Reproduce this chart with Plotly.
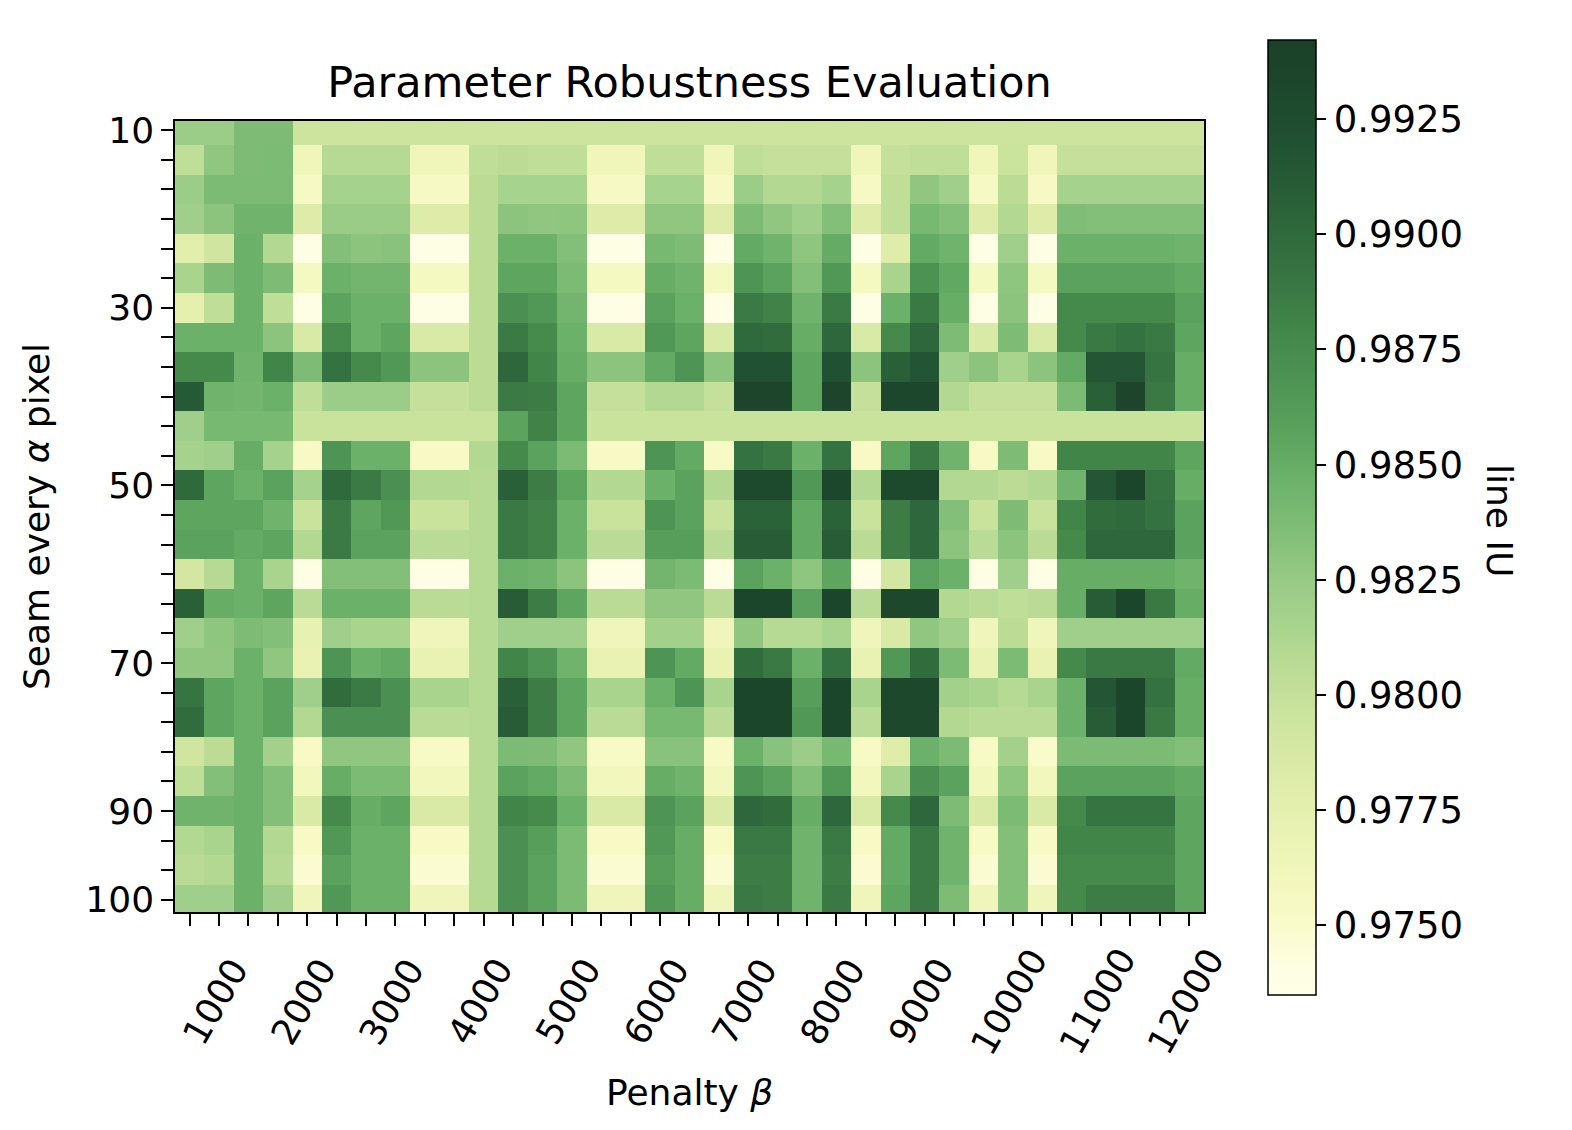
import plotly.graph_objects as go

# ---------------- data ----------------
penalty = [667, 1000, 1333, 1667, 2000, 2333, 2667, 3000, 3333, 3667, 4000, 4333,
           4667, 5000, 5333, 5667, 6000, 6333, 6667, 7000, 7333, 7667, 8000, 8333,
           8667, 9000, 9333, 9667, 10000, 10333, 10667, 11000, 11333, 11667, 12000]
penalty_labels = ["1000", "2000", "3000", "4000", "5000", "6000", "7000", "8000",
                  "9000", "10000", "11000", "12000"]
penalty_label_vals = [1000, 2000, 3000, 4000, 5000, 6000, 7000, 8000, 9000, 10000, 11000, 12000]

seam_rows = list(range(27))
seam_label_rows = [0, 6, 12, 18, 23, 26]
seam_labels = ["10", "30", "50", "70", "90", "100"]

line_iu = [
    [0.9822, 0.9822, 0.9837, 0.9837] + [0.9795] * 31,
    [0.9803, 0.9828, 0.9837, 0.9838, 0.9763, 0.9808, 0.9808, 0.9808, 0.9763, 0.9763, 0.9803, 0.9805,
     0.9803, 0.9803, 0.9763, 0.9763, 0.9803, 0.9803, 0.9763, 0.9803, 0.9800, 0.9800, 0.9800, 0.9763,
     0.9800, 0.9803, 0.9803, 0.9763, 0.9796, 0.9763, 0.9800, 0.9800, 0.9800, 0.9800, 0.9800],
    [0.9822, 0.9838, 0.9838, 0.9838, 0.9755, 0.9817, 0.9817, 0.9817, 0.9755, 0.9755, 0.9805, 0.9816,
     0.9816, 0.9816, 0.9755, 0.9755, 0.9816, 0.9816, 0.9755, 0.9822, 0.9810, 0.9810, 0.9817, 0.9755,
     0.9803, 0.9828, 0.9820, 0.9755, 0.9805, 0.9755, 0.9817, 0.9817, 0.9817, 0.9817, 0.9817],
    [0.9820, 0.9830, 0.9845, 0.9845, 0.9781, 0.9823, 0.9823, 0.9823, 0.9781, 0.9781, 0.9805, 0.9830,
     0.9828, 0.9829, 0.9781, 0.9781, 0.9828, 0.9828, 0.9781, 0.9837, 0.9828, 0.9820, 0.9834, 0.9781,
     0.9803, 0.9840, 0.9834, 0.9781, 0.9810, 0.9781, 0.9836, 0.9834, 0.9834, 0.9834, 0.9834],
    [0.9778, 0.9793, 0.9847, 0.9810, 0.9740, 0.9834, 0.9830, 0.9832, 0.9740, 0.9740, 0.9805, 0.9847,
     0.9847, 0.9834, 0.9740, 0.9740, 0.9840, 0.9837, 0.9740, 0.9852, 0.9845, 0.9829, 0.9851, 0.9740,
     0.9780, 0.9852, 0.9845, 0.9740, 0.9820, 0.9740, 0.9847, 0.9847, 0.9847, 0.9847, 0.9845],
    [0.9815, 0.9837, 0.9847, 0.9837, 0.9757, 0.9847, 0.9843, 0.9843, 0.9757, 0.9757, 0.9805, 0.9855,
     0.9855, 0.9838, 0.9757, 0.9757, 0.9850, 0.9845, 0.9757, 0.9868, 0.9857, 0.9834, 0.9865, 0.9757,
     0.9815, 0.9870, 0.9853, 0.9757, 0.9829, 0.9757, 0.9857, 0.9857, 0.9857, 0.9857, 0.9852],
    [0.9775, 0.9803, 0.9847, 0.9803, 0.9740, 0.9856, 0.9847, 0.9847, 0.9740, 0.9740, 0.9805, 0.9871,
     0.9865, 0.9843, 0.9740, 0.9740, 0.9857, 0.9847, 0.9740, 0.9887, 0.9882, 0.9845, 0.9887, 0.9740,
     0.9847, 0.9888, 0.9850, 0.9740, 0.9830, 0.9740, 0.9877, 0.9877, 0.9877, 0.9877, 0.9857],
    [0.9847, 0.9847, 0.9847, 0.9830, 0.9785, 0.9876, 0.9847, 0.9855, 0.9785, 0.9785, 0.9805, 0.9887,
     0.9876, 0.9847, 0.9785, 0.9785, 0.9865, 0.9855, 0.9785, 0.9900, 0.9898, 0.9850, 0.9902, 0.9785,
     0.9877, 0.9902, 0.9837, 0.9785, 0.9837, 0.9785, 0.9877, 0.9888, 0.9893, 0.9888, 0.9855],
    [0.9877, 0.9877, 0.9845, 0.9880, 0.9837, 0.9893, 0.9877, 0.9865, 0.9830, 0.9830, 0.9805, 0.9902,
     0.9880, 0.9850, 0.9830, 0.9830, 0.9852, 0.9868, 0.9830, 0.9920, 0.9920, 0.9855, 0.9920, 0.9830,
     0.9907, 0.9917, 0.9820, 0.9830, 0.9815, 0.9830, 0.9852, 0.9916, 0.9916, 0.9892, 0.9850],
    [0.9913, 0.9845, 0.9843, 0.9847, 0.9803, 0.9822, 0.9822, 0.9822, 0.9800, 0.9800, 0.9805, 0.9887,
     0.9885, 0.9855, 0.9800, 0.9800, 0.9810, 0.9810, 0.9800, 0.9935, 0.9935, 0.9855, 0.9935, 0.9800,
     0.9932, 0.9932, 0.9810, 0.9800, 0.9800, 0.9800, 0.9838, 0.9907, 0.9935, 0.9888, 0.9850],
    [0.9820, 0.9840, 0.9840, 0.9840] + [0.9797] * 7 + [0.9856, 0.9882, 0.9855] + [0.9797] * 21,
    [0.9817, 0.9820, 0.9850, 0.9817, 0.9752, 0.9868, 0.9847, 0.9847, 0.9752, 0.9752, 0.9810, 0.9877,
     0.9857, 0.9838, 0.9752, 0.9752, 0.9868, 0.9852, 0.9752, 0.9893, 0.9888, 0.9847, 0.9893, 0.9752,
     0.9855, 0.9888, 0.9845, 0.9752, 0.9837, 0.9752, 0.9880, 0.9880, 0.9880, 0.9880, 0.9855],
    [0.9900, 0.9855, 0.9847, 0.9857, 0.9817, 0.9900, 0.9887, 0.9871, 0.9810, 0.9810, 0.9808, 0.9907,
     0.9885, 0.9855, 0.9810, 0.9810, 0.9847, 0.9857, 0.9810, 0.9930, 0.9930, 0.9865, 0.9932, 0.9810,
     0.9930, 0.9930, 0.9810, 0.9810, 0.9805, 0.9810, 0.9845, 0.9916, 0.9933, 0.9892, 0.9850],
    [0.9855, 0.9855, 0.9855, 0.9845, 0.9797, 0.9887, 0.9855, 0.9865, 0.9797, 0.9797, 0.9808, 0.9888,
     0.9882, 0.9847, 0.9797, 0.9797, 0.9868, 0.9857, 0.9797, 0.9905, 0.9905, 0.9852, 0.9905, 0.9797,
     0.9885, 0.9902, 0.9834, 0.9797, 0.9837, 0.9797, 0.9880, 0.9898, 0.9900, 0.9893, 0.9857],
    [0.9857, 0.9857, 0.9852, 0.9855, 0.9810, 0.9887, 0.9857, 0.9857, 0.9806, 0.9806, 0.9808, 0.9888,
     0.9882, 0.9847, 0.9806, 0.9806, 0.9860, 0.9860, 0.9806, 0.9910, 0.9910, 0.9852, 0.9910, 0.9806,
     0.9885, 0.9902, 0.9830, 0.9806, 0.9830, 0.9806, 0.9877, 0.9902, 0.9902, 0.9902, 0.9857],
    [0.9790, 0.9808, 0.9847, 0.9815, 0.9740, 0.9834, 0.9834, 0.9834, 0.9740, 0.9740, 0.9808, 0.9847,
     0.9845, 0.9830, 0.9740, 0.9740, 0.9843, 0.9838, 0.9740, 0.9857, 0.9847, 0.9829, 0.9855, 0.9740,
     0.9790, 0.9857, 0.9847, 0.9740, 0.9820, 0.9740, 0.9850, 0.9850, 0.9850, 0.9850, 0.9845],
    [0.9907, 0.9850, 0.9847, 0.9855, 0.9806, 0.9847, 0.9847, 0.9847, 0.9806, 0.9806, 0.9808, 0.9910,
     0.9885, 0.9855, 0.9806, 0.9806, 0.9828, 0.9828, 0.9806, 0.9933, 0.9933, 0.9857, 0.9933, 0.9806,
     0.9931, 0.9931, 0.9810, 0.9806, 0.9803, 0.9806, 0.9850, 0.9910, 0.9933, 0.9888, 0.9850],
    [0.9820, 0.9829, 0.9837, 0.9834, 0.9773, 0.9820, 0.9815, 0.9815, 0.9762, 0.9762, 0.9808, 0.9820,
     0.9820, 0.9820, 0.9762, 0.9762, 0.9818, 0.9818, 0.9762, 0.9828, 0.9808, 0.9808, 0.9815, 0.9762,
     0.9785, 0.9828, 0.9820, 0.9762, 0.9805, 0.9762, 0.9820, 0.9820, 0.9820, 0.9820, 0.9820],
    [0.9828, 0.9828, 0.9847, 0.9828, 0.9770, 0.9868, 0.9847, 0.9852, 0.9770, 0.9770, 0.9808, 0.9880,
     0.9868, 0.9845, 0.9770, 0.9770, 0.9868, 0.9852, 0.9770, 0.9898, 0.9888, 0.9847, 0.9893, 0.9770,
     0.9865, 0.9898, 0.9838, 0.9770, 0.9838, 0.9770, 0.9877, 0.9888, 0.9888, 0.9888, 0.9852],
    [0.9892, 0.9855, 0.9847, 0.9857, 0.9820, 0.9898, 0.9887, 0.9871, 0.9815, 0.9815, 0.9808, 0.9907,
     0.9885, 0.9855, 0.9815, 0.9815, 0.9847, 0.9868, 0.9815, 0.9933, 0.9933, 0.9860, 0.9933, 0.9815,
     0.9931, 0.9931, 0.9818, 0.9815, 0.9808, 0.9815, 0.9847, 0.9916, 0.9933, 0.9893, 0.9850],
    [0.9898, 0.9855, 0.9847, 0.9857, 0.9810, 0.9871, 0.9871, 0.9871, 0.9806, 0.9806, 0.9808, 0.9910,
     0.9885, 0.9855, 0.9806, 0.9806, 0.9840, 0.9840, 0.9806, 0.9933, 0.9933, 0.9865, 0.9933, 0.9806,
     0.9931, 0.9931, 0.9810, 0.9806, 0.9806, 0.9806, 0.9847, 0.9910, 0.9933, 0.9888, 0.9850],
    [0.9793, 0.9805, 0.9847, 0.9818, 0.9752, 0.9828, 0.9828, 0.9828, 0.9752, 0.9752, 0.9808, 0.9838,
     0.9837, 0.9828, 0.9752, 0.9752, 0.9832, 0.9832, 0.9752, 0.9847, 0.9832, 0.9822, 0.9840, 0.9752,
     0.9780, 0.9847, 0.9838, 0.9752, 0.9818, 0.9750, 0.9838, 0.9838, 0.9838, 0.9838, 0.9834],
    [0.9803, 0.9834, 0.9847, 0.9834, 0.9760, 0.9850, 0.9838, 0.9838, 0.9760, 0.9760, 0.9808, 0.9857,
     0.9852, 0.9837, 0.9760, 0.9760, 0.9850, 0.9845, 0.9760, 0.9868, 0.9857, 0.9834, 0.9865, 0.9760,
     0.9815, 0.9871, 0.9857, 0.9760, 0.9829, 0.9760, 0.9857, 0.9857, 0.9857, 0.9857, 0.9852],
    [0.9845, 0.9845, 0.9847, 0.9834, 0.9785, 0.9877, 0.9850, 0.9855, 0.9785, 0.9785, 0.9808, 0.9880,
     0.9876, 0.9847, 0.9785, 0.9785, 0.9868, 0.9857, 0.9785, 0.9902, 0.9898, 0.9850, 0.9902, 0.9785,
     0.9877, 0.9902, 0.9837, 0.9785, 0.9838, 0.9785, 0.9877, 0.9892, 0.9892, 0.9892, 0.9855],
    [0.9810, 0.9815, 0.9847, 0.9810, 0.9752, 0.9865, 0.9847, 0.9847, 0.9752, 0.9752, 0.9808, 0.9871,
     0.9860, 0.9838, 0.9752, 0.9752, 0.9865, 0.9850, 0.9752, 0.9888, 0.9888, 0.9845, 0.9888, 0.9752,
     0.9852, 0.9888, 0.9845, 0.9752, 0.9834, 0.9752, 0.9880, 0.9880, 0.9880, 0.9880, 0.9855],
    [0.9806, 0.9810, 0.9847, 0.9808, 0.9748, 0.9857, 0.9847, 0.9847, 0.9748, 0.9748, 0.9808, 0.9871,
     0.9857, 0.9838, 0.9748, 0.9748, 0.9860, 0.9850, 0.9748, 0.9885, 0.9885, 0.9845, 0.9885, 0.9748,
     0.9852, 0.9888, 0.9845, 0.9748, 0.9834, 0.9748, 0.9877, 0.9877, 0.9877, 0.9877, 0.9855],
    [0.9820, 0.9820, 0.9847, 0.9820, 0.9762, 0.9865, 0.9847, 0.9847, 0.9762, 0.9762, 0.9808, 0.9871,
     0.9857, 0.9838, 0.9762, 0.9762, 0.9865, 0.9850, 0.9762, 0.9888, 0.9885, 0.9845, 0.9888, 0.9762,
     0.9855, 0.9888, 0.9837, 0.9762, 0.9834, 0.9762, 0.9877, 0.9885, 0.9885, 0.9885, 0.9855],
]

cbar_ticks = [0.9750, 0.9775, 0.9800, 0.9825, 0.9850, 0.9875, 0.9900, 0.9925]
z_min, z_max = 0.97348, 0.99422

# colour stops (value, colour)
stop_vals = [0.97348, 0.9740, 0.9752, 0.9765, 0.9780, 0.9795, 0.9805, 0.9815, 0.9822,
             0.9830, 0.9838, 0.9847, 0.9857, 0.9868, 0.9880, 0.9890, 0.9900, 0.9910,
             0.9920, 0.9933, 0.99422]
stop_cols = ["#ffffe6", "#fefee5", "#f8fac6", "#eef5b8", "#e0edaa", "#cce49e", "#bcdc96",
             "#a8d48e", "#9ccd88", "#8cc47e", "#7cbb74", "#6cb16a", "#5aa25d", "#4e9455",
             "#428548", "#387643", "#2f6a3c", "#285c36", "#215133", "#1c462b", "#1a4029"]

# ---------------- figure ----------------
OFF = 8                      # the page body adds an 8 px margin around the figure
W, H = 1572 - OFF, 1130 - OFF
L, R, T, B = 175 - OFF, 1204 - OFF, 121 - OFF, 912 - OFF
FONT = "DejaVu Sans"
TICK_SIZE = 36

colorscale = [[(v - z_min) / (z_max - z_min), c] for v, c in zip(stop_vals, stop_cols)]
colorscale[0][0] = 0.0
colorscale[-1][0] = 1.0

y_ticktext = [seam_labels[seam_label_rows.index(r)] if r in seam_label_rows else ""
              for r in seam_rows]

cb_left, cb_mid = 1268 - OFF, 517.5 - OFF

fig = go.Figure(go.Heatmap(
    z=line_iu, x=penalty, y=seam_rows,
    zmin=z_min, zmax=z_max, colorscale=colorscale,
    colorbar=dict(
        x=(cb_left - L) / (R - L), xanchor="left", xpad=0,
        y=(B - cb_mid) / (B - T), yanchor="middle", ypad=0,
        thickness=48, thicknessmode="pixels",
        len=955, lenmode="pixels",
        outlinewidth=1.5, outlinecolor="black",
        tickmode="array", tickvals=cbar_ticks,
        ticktext=[f"{t:.4f}" for t in cbar_ticks],
        ticks="outside", ticklen=10, tickwidth=1.5, tickcolor="black",
        tickfont=dict(family=FONT, size=37, color="black"),
    ),
    hovertemplate="β=%{x}<br>row=%{y}<br>IU=%{z:.4f}<extra></extra>",
))

# rotated x tick labels, centred on a common line under their ticks (matplotlib style)
label_mid_px = 1001 - OFF
xlabel_annotations = [
    dict(text=txt, x=val, xref="x", xshift=-4,
         y=(B - label_mid_px) / (B - T), yref="paper", yanchor="middle", xanchor="center",
         textangle=-60, showarrow=False,
         font=dict(family=FONT, size=TICK_SIZE, color="black"))
    for txt, val in zip(penalty_labels, penalty_label_vals)
]

fig.update_layout(
    width=W, height=H,
    margin=dict(l=L, r=W - R, t=T, b=H - B, pad=0, autoexpand=False),
    paper_bgcolor="white", plot_bgcolor="white",
    font=dict(family=FONT, size=TICK_SIZE, color="black"),
    title=dict(text="Parameter Robustness Evaluation", x=0.5, xref="paper", xanchor="center",
               y=1 - (82 - OFF) / H, yref="container", yanchor="middle",
               font=dict(family=FONT, size=43, color="black")),
    xaxis=dict(
        range=[500, 12167], showgrid=False, zeroline=False, automargin=False,
        showline=True, mirror=True, linecolor="black", linewidth=1.5,
        tickmode="array", tickvals=penalty, showticklabels=False,
        ticks="outside", ticklen=12, tickwidth=1.5, tickcolor="black",
    ),
    yaxis=dict(
        range=[26.41, -0.31], showgrid=False, zeroline=False, automargin=False,
        showline=True, mirror=True, linecolor="black", linewidth=1.5,
        tickmode="array", tickvals=seam_rows, ticktext=y_ticktext,
        ticks="outside", ticklen=12, tickwidth=1.5, tickcolor="black",
        tickfont=dict(family=FONT, size=TICK_SIZE, color="black"),
        title=dict(text="Seam every <i>α</i> pixel", standoff=25,
                   font=dict(family=FONT, size=TICK_SIZE, color="black")),
    ),
    annotations=xlabel_annotations + [
        dict(text="line IU", textangle=90,
             xref="paper", x=(1500 - OFF - L) / (R - L), xanchor="center",
             yref="paper", y=(B - (520 - OFF)) / (B - T), yanchor="middle",
             showarrow=False,
             font=dict(family=FONT, size=TICK_SIZE, color="black")),
        dict(text="Penalty <i>β</i>", xref="paper", x=0.5, xanchor="center",
             yref="paper", y=(B - (1092 - OFF)) / (B - T), yanchor="middle",
             showarrow=False,
             font=dict(family=FONT, size=TICK_SIZE, color="black")),
    ],
)

fig.write_html("out.html")
